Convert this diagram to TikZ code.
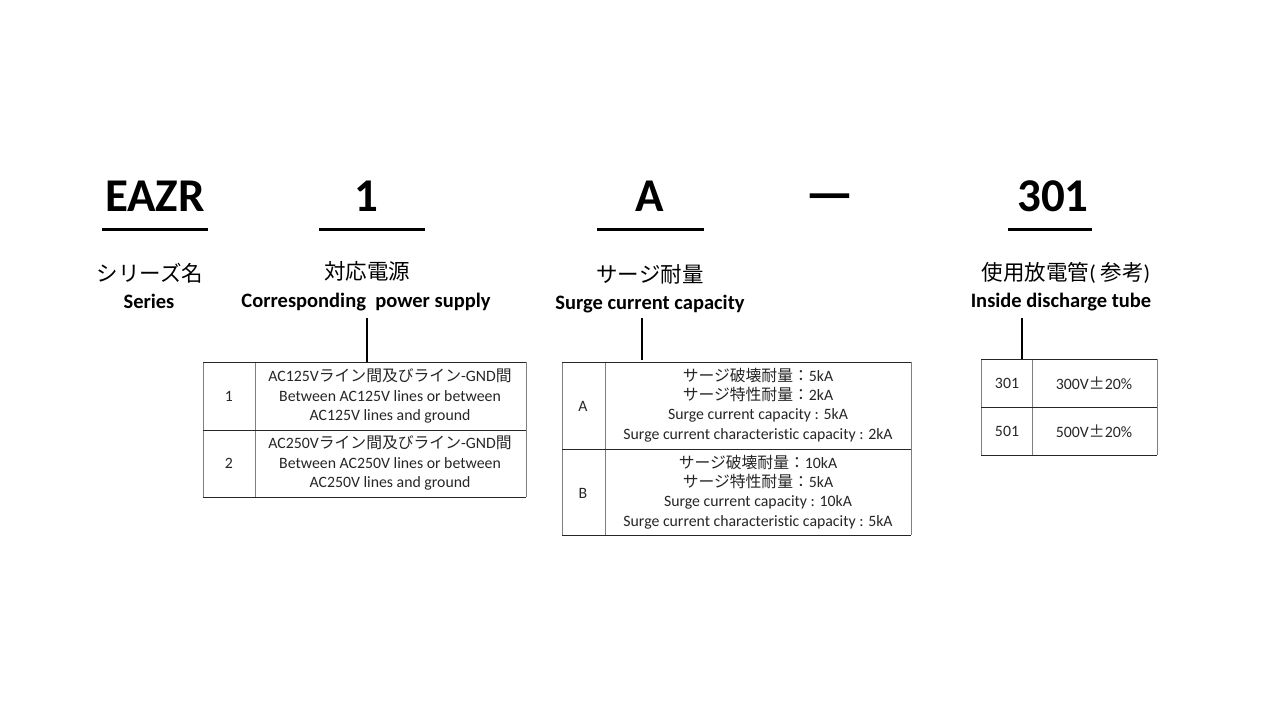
\documentclass[tikz,border=0pt]{standalone}
\usepackage{fontspec}
\setmainfont{Carlito}[Ligatures=NoCommon]
\newfontfamily\cjk{Noto Sans CJK JP}
\newcommand{\jp}[1]{{\cjk #1}}
\definecolor{txt}{HTML}{262626}
\definecolor{grid}{HTML}{7F7F7F}
\begin{document}
\begin{tikzpicture}[x=1pt,y=-1pt,
  code/.style={font=\bfseries\fontsize{47}{52}\selectfont,anchor=base,inner sep=0pt},
  ul/.style={line width=3pt},
  jlabel/.style={font=\fontsize{21.5}{24}\selectfont,anchor=base,inner sep=0pt},
  elabel/.style={font=\bfseries\fontsize{20.5}{24}\selectfont,anchor=base,inner sep=0pt},
  conn/.style={line width=2pt},
  hline/.style={line width=1pt,black!85},
  vline/.style={line width=1pt,grid},
  cell/.style={font=\fontsize{15.8}{19.3}\selectfont,align=center,inner sep=0pt,text=txt}]
\useasboundingbox (0,0) rectangle (1280,720);
\fill[white] (0,0) rectangle (1280,720);

% codes
\node[code] (eazr) at (155,211) {EAZR};
\node[code] (one) at (366,211) {1};
\node[code] (a) at (650,211) {A};
\node[code] (dash) at (830,211) {\fontsize{54}{58}\selectfont —};
\node[code] (n301) at (1053,211) {301};
\draw[ul] (102,229) -- (208,229);
\draw[ul] (319,229) -- (425,229);
\draw[ul] (597,229) -- (704,229);
\draw[ul] (1008,229) -- (1092,229);

% labels
\node[jlabel] (l1j) at (150,281) {\jp{シリーズ名}};
\node[elabel] (l1e) at (149,308) {Series};
\node[jlabel] (l2j) at (367,279) {\jp{対応電源}};
\node[elabel] (l2e) at (366,307) {Corresponding\ \ power supply};
\node[jlabel] (l3j) at (650,282) {\jp{サージ耐量}};
\node[elabel] (l3e) at (650,309) {Surge current capacity};
\node[jlabel] (l4j) at (1066,280) {\jp{使用放電管}(\jp{ 参考})};
\node[elabel] (l4e) at (1061,307) {Inside discharge tube};

% connectors
\coordinate (c1a) at (367,318); \coordinate (c1b) at (367,362);
\coordinate (c2a) at (642,318); \coordinate (c2b) at (642,360);
\coordinate (c3a) at (1022,318); \coordinate (c3b) at (1022,359);
\draw[conn] (c1a) -- (c1b);
\draw[conn] (c2a) -- (c2b);
\draw[conn] (c3a) -- (c3b);

% table 1
\draw[vline] (203,362) -- (203,497) (255,362) -- (255,497) (526,362) -- (526,497);
\draw[hline] (203,362) -- (526,362) (203,430) -- (526,430) (203,497) -- (526,497);
\node[cell] (t1k1) at (229,396) {1};
\node[cell] (t1v1) at (390,396) {AC125V\jp{ライン間及びライン}-GND\jp{間}\\Between AC125V lines or between\\AC125V lines and ground};
\node[cell] (t1k2) at (229,463) {2};
\node[cell] (t1v2) at (390,463) {AC250V\jp{ライン間及びライン}-GND\jp{間}\\Between AC250V lines or between\\AC250V lines and ground};

% table 2
\draw[vline] (562,362) -- (562,535) (605,362) -- (605,535) (911,362) -- (911,535);
\draw[hline] (562,362) -- (911,362) (562,449) -- (911,449) (562,535) -- (911,535);
\node[cell] (t2k1) at (583,406) {A};
\node[cell] (t2v1) at (758,405) {\jp{サージ破壊耐量：}5kA\\\jp{サージ特性耐量：}2kA\\Surge current capacity : 5kA\\Surge current characteristic capacity : 2kA};
\node[cell] (t2k2) at (583,493) {B};
\node[cell] (t2v2) at (758,492) {\jp{サージ破壊耐量：}10kA\\\jp{サージ特性耐量：}5kA\\Surge current capacity : 10kA\\Surge current characteristic capacity : 5kA};

% table 3
\draw[vline] (981,359) -- (981,455) (1032,359) -- (1032,455) (1157,359) -- (1157,455);
\draw[hline] (981,359) -- (1157,359) (981,407) -- (1157,407) (981,455) -- (1157,455);
\node[cell] (t3k1) at (1007,383) {301};
\node[cell] (t3v1) at (1094,383) {300V\jp{±}20\%};
\node[cell] (t3k2) at (1007,431) {501};
\node[cell] (t3v2) at (1094,431) {500V\jp{±}20\%};
\end{tikzpicture}
\end{document}
